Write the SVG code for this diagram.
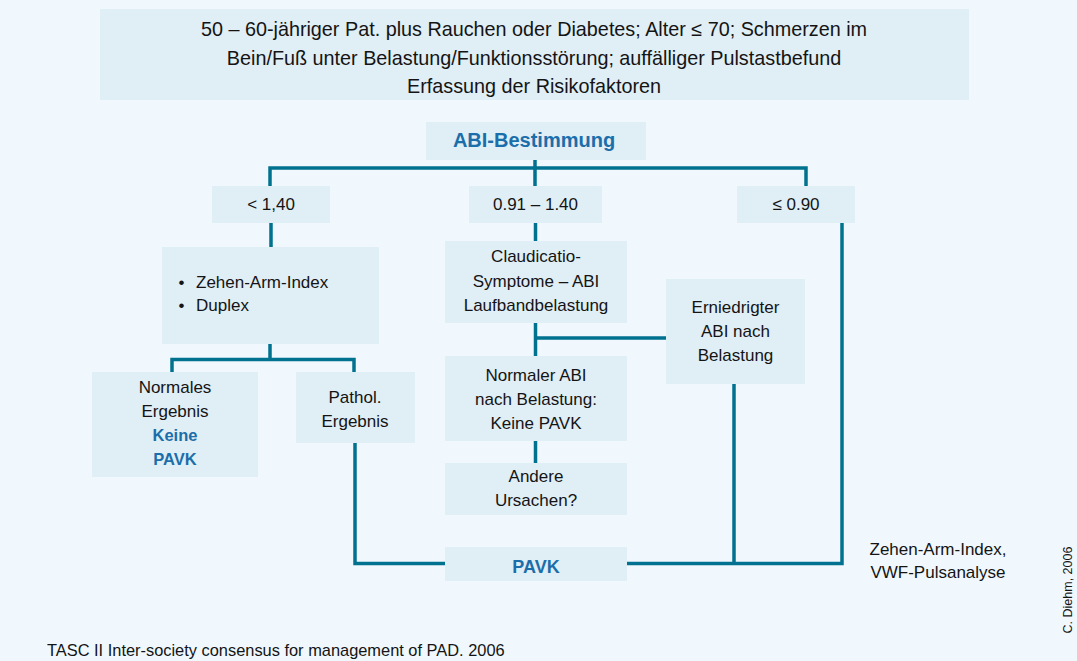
<svg xmlns="http://www.w3.org/2000/svg" width="1077" height="661" viewBox="0 0 1077 661">
<style>
.bg{fill:#F0F8FE}
.box{fill:#E0EEF6}
.t{font-family:"Liberation Sans",Arial,sans-serif;font-size:17px;fill:#141414;text-anchor:middle}
.top{font-size:19.8px}
.b{font-family:"Liberation Sans",Arial,sans-serif;font-weight:bold;fill:#1B6EAA;text-anchor:middle}
.ln{fill:none;stroke:#00718F;stroke-width:3.5;stroke-linejoin:miter;stroke-linecap:butt}
</style>
<rect class="bg" x="0" y="0" width="1077" height="661"/>
<g id="connectors">
<path class="ln" d="M535,160 V186"/>
<path class="ln" d="M270,186 V168 H806 V186"/>
<path class="ln" d="M271,223 V247"/>
<path class="ln" d="M270,344 V359.5"/>
<path class="ln" d="M172,372 V359.5 H354 V372"/>
<path class="ln" d="M535.5,223 V241"/>
<path class="ln" d="M535.5,323 V356"/>
<path class="ln" d="M535.5,338 H666"/>
<path class="ln" d="M535.5,441 V463"/>
<path class="ln" d="M355,443 V563.5 H445"/>
<path class="ln" d="M627,563.5 H842 V223"/>
<path class="ln" d="M734,384 V563.5"/>
</g>
<g id="n-top">
<rect class="box" x="100" y="9" width="869" height="91"/>
<text class="t top" x="534" y="36">50 – 60-jähriger Pat. plus Rauchen oder Diabetes; Alter ≤ 70; Schmerzen im</text>
<text class="t top" x="534" y="65">Bein/Fuß unter Belastung/Funktionsstörung; auffälliger Pulstastbefund</text>
<text class="t top" x="534" y="93">Erfassung der Risikofaktoren</text>
</g>
<g id="n-abi">
<rect class="box" x="426" y="122" width="220" height="38"/>
<text class="b" x="534" y="147" font-size="20">ABI-Bestimmung</text>
</g>
<g id="n-lt140">
<rect class="box" x="212" y="186" width="118" height="37"/>
<text class="t" x="271" y="210">&lt; 1,40</text>
</g>
<g id="n-mid">
<rect class="box" x="469" y="186" width="133" height="37"/>
<text class="t" x="535.5" y="210">0.91 – 1.40</text>
</g>
<g id="n-le090">
<rect class="box" x="737" y="186" width="118" height="37"/>
<text class="t" x="796" y="210">≤ 0.90</text>
</g>
<g id="n-zehen">
<rect class="box" x="162" y="247" width="217" height="97"/>
<text class="t" style="text-anchor:start" x="178.5" y="288">•<tspan x="196">Zehen-Arm-Index</tspan></text>
<text class="t" style="text-anchor:start" x="178.5" y="311">•<tspan x="196">Duplex</tspan></text>
</g>
<g id="n-normales">
<rect class="box" x="92" y="372" width="166" height="105"/>
<text class="t" x="175" y="393">Normales</text>
<text class="t" x="175" y="417">Ergebnis</text>
<text class="b" x="175" y="441" font-size="16.5">Keine</text>
<text class="b" x="175" y="465" font-size="16.5">PAVK</text>
</g>
<g id="n-pathol">
<rect class="box" x="296" y="372" width="119" height="71"/>
<text class="t" x="355" y="403">Pathol.</text>
<text class="t" x="355" y="427">Ergebnis</text>
</g>
<g id="n-claud">
<rect class="box" x="445" y="241" width="182" height="82"/>
<text class="t" x="536" y="262">Claudicatio-</text>
<text class="t" x="536" y="287">Symptome – ABI</text>
<text class="t" x="536" y="311">Laufbandbelastung</text>
</g>
<g id="n-ernied">
<rect class="box" x="666" y="279" width="139" height="105"/>
<text class="t" x="735.5" y="313">Erniedrigter</text>
<text class="t" x="735.5" y="337">ABI nach</text>
<text class="t" x="735.5" y="361">Belastung</text>
</g>
<g id="n-normaler">
<rect class="box" x="445" y="356" width="182" height="85"/>
<text class="t" x="536" y="381">Normaler ABI</text>
<text class="t" x="536" y="405">nach Belastung:</text>
<text class="t" x="536" y="429">Keine PAVK</text>
</g>
<g id="n-andere">
<rect class="box" x="445" y="463" width="182" height="52"/>
<text class="t" x="536" y="482">Andere</text>
<text class="t" x="536" y="506">Ursachen?</text>
</g>
<g id="n-pavk">
<rect class="box" x="445" y="547" width="182" height="34"/>
<text class="b" x="536" y="573" font-size="18">PAVK</text>
</g>
<g id="n-note">
<text class="t" x="938" y="555">Zehen-Arm-Index,</text>
<text class="t" x="938" y="578">VWF-Pulsanalyse</text>
</g>
<g id="footer">
<text class="t" style="text-anchor:start;font-size:16.4px" x="47" y="656">TASC II Inter-society consensus for management of PAD. 2006</text>
<text class="t" style="font-size:12.5px" transform="translate(1072,590) rotate(-90)" x="0" y="0">C. Diehm, 2006</text>
</g>
</svg>
